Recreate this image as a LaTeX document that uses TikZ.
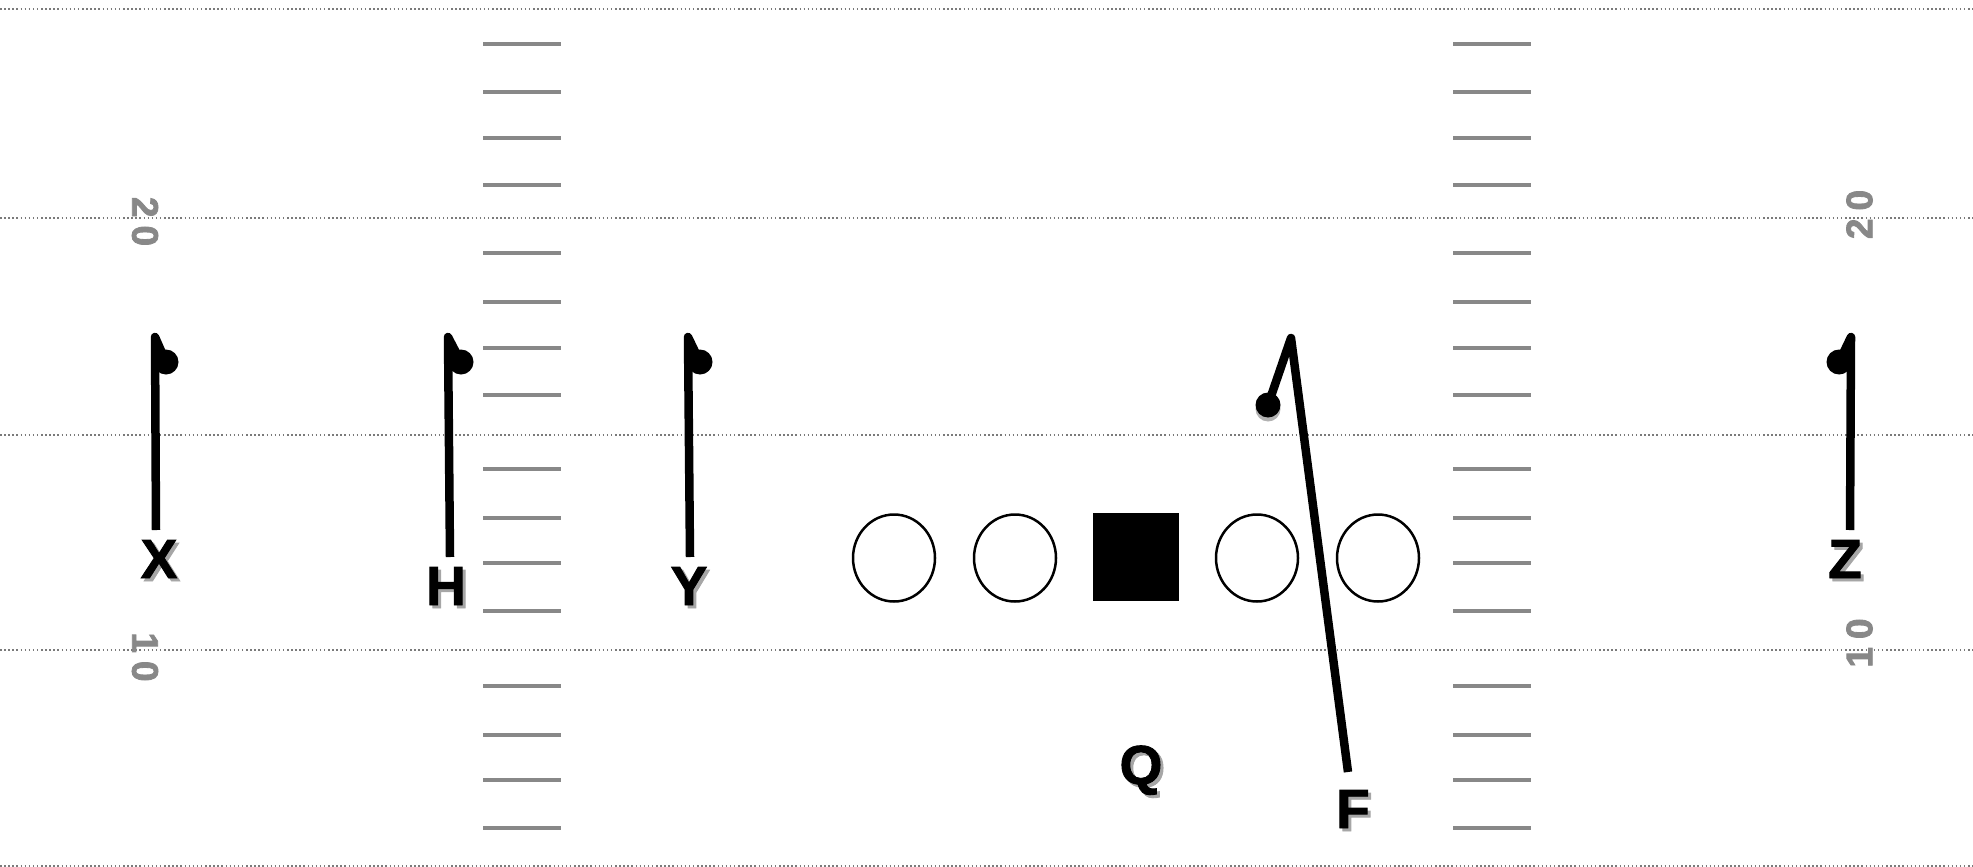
\documentclass[tikz,border=0pt]{standalone}
\usepackage{fontspec}
\setmainfont{Liberation Sans}
\newfontfamily\heavyfont{Liberation Sans Bold}[FakeBold=1.6]
\newfontfamily\numfont{Liberation Sans Bold}[FakeBold=2.2]
\usetikzlibrary{shapes.geometric}
\definecolor{hashgray}{HTML}{888888}
\definecolor{dotgray}{HTML}{7A7A7A}
\newcommand\shd[1]{\makebox[0pt][l]{\kern3pt\raisebox{-3pt}{\color{black!35}#1}}#1}
\tikzset{
  yardline/.style={draw=dotgray, line width=1.5pt, dash pattern=on 1.5pt off 2.6pt},
  hashmark/.style={draw=hashgray, line width=4pt},
  yardnum/.style={text=hashgray, font=\numfont\fontsize{37}{40}\selectfont, inner sep=0pt},
  plabel/.style={font=\heavyfont\fontsize{55}{60}\selectfont, inner sep=0pt, anchor=base},
  route/.style={draw=black, line width=8.5pt, line join=round},
  rdot/.style={circle, fill=black, minimum size=25pt, inner sep=0pt},
  lineman/.style={ellipse, draw=black, line width=2.5pt, fill=white, minimum width=82pt, minimum height=87pt, inner sep=0pt},
  center/.style={rectangle, fill=black, minimum width=86pt, minimum height=88pt, inner sep=0pt}
}
\begin{document}
\begin{tikzpicture}[x=1pt,y=-1pt]
\useasboundingbox (0,0) rectangle (1973,867);
% yard lines
\foreach \yy in {9,218,435,650,866}
  \draw[yardline] (0,\yy) -- (1973,\yy);
% hash marks
\foreach \yy in {44,92,137.5,185,253,302,347.5,395,468.5,517.5,563,611,686,735,780,827.5}{
  \draw[hashmark] (483,\yy) -- (561,\yy);
  \draw[hashmark] (1453,\yy) -- (1531,\yy);
}
% yard numbers
\node[yardnum, rotate=-90] (n20l) at (145,221.5) {2\kern8pt0};
\node[yardnum, rotate=-90] (n10l) at (145,657) {1\kern8pt0};
\node[yardnum, rotate=90] (n20r) at (1859.5,214.5) {2\kern8pt0};
\node[yardnum, rotate=90] (n10r) at (1859.5,643) {1\kern8pt0};
% offensive line
\node[lineman] (LT) at (894,558) {};
\node[lineman] (LG) at (1015,558) {};
\node[center] (C) at (1136,557) {};
\node[lineman] (RG) at (1257,558) {};
\node[lineman] (RT) at (1378,558) {};
% labels
\node[plabel] (X) at (159,578) {\shd{X}};
\node[plabel] (H) at (446,605) {\shd{H}};
\node[plabel] (Y) at (689,605) {\shd{Y}};
\node[plabel] (Z) at (1845,578) {\shd{Z}};
\node[plabel] (Q) at (1141,784) {\shd{Q}};
\node[plabel] (F) at (1353,828) {\shd{F}};
% route coordinates
\coordinate (Xb) at (156,530); \coordinate (Xt) at (155,337);
\coordinate (Hb) at (450,557); \coordinate (Ht) at (448,337);
\coordinate (Yb) at (690,557); \coordinate (Yt) at (688,337);
\coordinate (Zb) at (1850,530); \coordinate (Zt) at (1851,337);
\coordinate (Fb) at (1348,772); \coordinate (Ft) at (1291,338);
% route end dots
\fill[black!30] (1268,409) circle (12.5pt);
\node[rdot] (Xd) at (166,362) {};
\node[rdot] (Hd) at (461,362) {};
\node[rdot] (Yd) at (700,362) {};
\node[rdot] (Zd) at (1839,362) {};
\node[rdot] (Fd) at (1268,405) {};
% routes
\draw[route] (Xb) -- (Xt) -- (Xd.center);
\draw[route] (Hb) -- (Ht) -- (Hd.center);
\draw[route] (Yb) -- (Yt) -- (Yd.center);
\draw[route] (Zb) -- (Zt) -- (Zd.center);
\draw[route] (Fb) -- (Ft) -- (Fd.center);
\end{tikzpicture}
\end{document}
